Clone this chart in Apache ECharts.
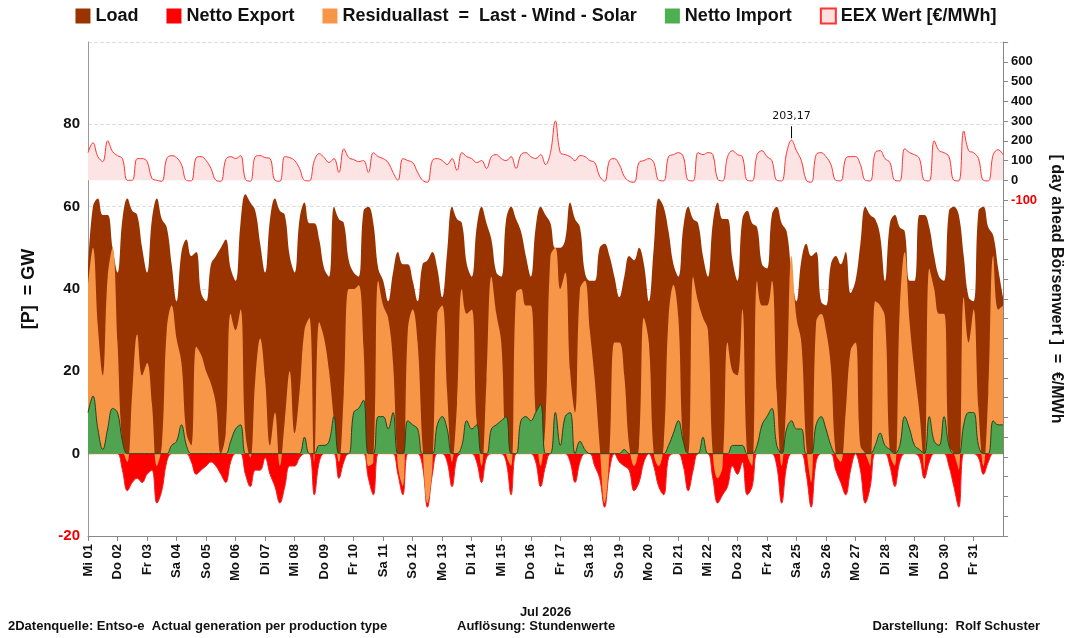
<!DOCTYPE html>
<html><head><meta charset="utf-8">
<script src="https://cdn.jsdelivr.net/npm/echarts@6/dist/echarts.min.js"></script>
<style>html,body{margin:0;padding:0;background:#fff}#c{width:1072px;height:638px}</style>
</head><body><div id="c"></div>
<script>
// 4-hourly samples (00,04,08,12,16,20 h) for each day of Jul 2026, plus final point
var dayLabels = ['Mi 01','Do 02','Fr 03','Sa 04','So 05','Mo 06','Di 07','Mi 08','Do 09','Fr 10','Sa 11','So 12','Mo 13','Di 14','Mi 15','Do 16','Fr 17','Sa 18','So 19','Mo 20','Di 21','Mi 22','Do 23','Fr 24','Sa 25','So 26','Mo 27','Di 28','Mi 29','Do 30','Fr 31'];
var load = [
45,60,62,58,58,50, 44,57,62,59,58,50, 44,57,62,57,55,46, 37,49,52,48,49,39, 37,46,48,50,52,45,
42,56,63,61,59,51, 44,57,62,59,58,48, 44,57,61,56,56,52, 45,43,60,57,56,47, 44,43,59,60,56,45,
42,37,44,49,46,46, 42,37,46,47,49,45, 38,49,60,57,56,46, 43,55,60,56,52,44, 43,57,60,57,54,48,
43,55,60,58,56,50, 50,52,61,57,55,44, 42,42,50,51,48,43, 38,43,48,47,50,46, 37,50,62,60,54,46,
43,55,60,57,56,48, 43,56,61,57,57,47, 42,57,59,56,55,46, 45,58,60,56,54,44, 37,47,51,48,49,37,
36,46,48,46,49,39, 42,51,60,58,57,53, 42,56,58,55,54,42, 42,58,58,55,48,43, 42,59,60,58,48,38,
37,59,60,55,53,45, 38];
var residual = [
41,50,31,19,43,50, 27,2,-2,15,29,19, 22,12,-3,2,30,36, 28,22,5,2,26,24, 20,17,12,0,5,34,
30,35,5,-1,18,28, 18,2,10,-3,8,20, 5,15,30,33,-2,32, 28,20,8,-2,15,40, 40,41,26,-3,-2,42,
36,33,22,-3,-8,30, 35,27,2,-12,-3,34, 36,15,-2,12,40,34, 35,8,-3,18,43,34, 27,0,-3,39,40,36,
36,10,-3,8,48,50, 40,44,20,10,40,42, 30,18,2,-12,0,27, 27,19,2,-3,2,33, 27,0,-3,2,33,41,
33,2,0,43,37,33, 30,0,-6,-3,27,20, 19,35,0,-3,42,36, 36,42,15,-3,15,48, 33,27,2,-7,32,34,
30,21,0,-2,10,25, 27,2,0,-3,37,36, 33,0,-3,35,49,32, 20,10,-4,45,40,34, 34,2,0,-4,38,27,
35,11,-3,15,48,35, 36];
var nettoExport = [
0,0,0,0,0,0, 0,-4,-9,-7,-6,-7, -5,-4,-12,-9,-2,0, 0,0,0,-2,-5,-4, -3,-2,-3,-5,-7,-2,
0,0,-5,-8,-4,-4, -1,-5,-8,-12,-8,-3, -3,-1,0,0,-10,-2, 0,0,0,-6,-2,0, 0,0,0,-6,-10,0,
0,0,0,-5,-10,0, 0,0,-3,-13,-5,0, 0,-2,-8,-1,0,0, 0,-2,-7,-1,0,0, 0,-2,-10,0,0,0,
0,-2,-8,-3,0,0, 0,0,-2,-7,-2,0, 0,-3,-6,-13,-4,0, -2,-3,-4,-9,-7,-2, 0,-3,-8,-10,-1,0,
0,-3,-9,-4,0,0, 0,-6,-12,-10,-8,-3, -5,-2,-10,-8,0,0, 0,0,-3,-12,-3,0, 0,0,-5,-13,-2,0,
0,0,-4,-7,-10,-4, 0,-4,-12,-8,0,0, 0,-3,-8,-2,0,0, 0,-1,-6,-2,0,0, 0,-3,-8,-13,0,0,
0,-1,-5,-2,0,0, 0];
var nettoImport = [
10,14,6,1,6,11, 10,3,0,0,0,0, 0,0,0,0,0,2, 3,7,2,0,0,0, 0,0,0,0,0,3,
6,7,0,0,0,0, 0,0,0,0,0,0, 0,0,4,0,0,2, 2,3,9,0,0,0, 10,11,13,0,0,9,
9,6,10,0,0,8, 7,6,0,0,0,7, 9,6,0,0,2,8, 6,7,0,0,6,7, 8,9,0,0,8,9,
8,10,12,0,0,10, 2,9,10,0,3,1, 0,0,0,0,0,0, 0,1,0,0,0,0, 0,0,0,0,2,5,
8,3,0,0,0,4, 0,0,0,0,0,2, 2,2,0,0,2,7, 9,11,2,0,6,8, 6,6,0,0,7,9,
6,2,0,0,0,0, 0,0,0,0,2,5, 2,1,0,2,9,6, 2,1,0,9,3,2, 9,2,0,0,7,10,
10,2,0,0,8,7, 7];
var eex = [
140,190,120,95,200,145, 125,110,0,0,110,110, 95,10,0,-5,110,125, 115,80,0,-3,115,120, 100,60,0,-5,105,120,
110,125,5,-5,120,125, 115,110,0,-5,120,115, 100,60,0,-3,100,135, 115,90,110,40,160,115, 105,95,100,40,140,120,
110,90,40,0,110,100, 90,40,0,-10,100,110, 100,80,110,50,140,120, 110,90,100,60,120,130, 110,100,120,60,130,140,
120,110,130,80,140,300, 140,130,120,100,125,120, 100,90,20,-5,100,110, 80,20,-5,-10,90,100, 110,90,0,-3,120,130,
140,120,0,-3,140,130, 140,130,5,-3,120,150, 130,120,0,-3,130,150, 120,100,0,-3,140,203.17, 150,100,0,-10,130,140,
120,80,0,-3,110,120, 120,80,0,-3,140,150, 110,90,0,-3,160,140, 130,110,0,-3,200,150, 140,120,0,-3,250,150,
140,110,0,-3,130,155, 130];
var leftTicks = [-20,0,20,40,60,80];
var rightTicks = [-100,0,100,200,300,400,500,600];

var cats = [];
for (var d = 0; d < dayLabels.length; d++) { for (var h = 0; h < 6; h++) cats.push(h === 0 ? dayLabels[d] : ''); }
cats.push('');
var annIdx = eex.indexOf(203.17);

var F = 'Liberation Sans';
var chart = echarts.init(document.getElementById('c'));
chart.setOption({
  animation: false,
  textStyle: {fontFamily: F},
  legend: {top: 2, left: 'center', itemWidth: 15, itemHeight: 15, itemGap: 28, icon: 'rect',
    textStyle: {fontFamily: F, fontWeight: 'bold', fontSize: 18, color: '#111'},
    data: ['Load', 'Netto Export', 'Residuallast  =  Last - Wind - Solar', 'Netto Import', 'EEX Wert [€/MWh]']},
  grid: {left: 88, right: 62, top: 42, bottom: 102},
  xAxis: {type: 'category', data: cats, boundaryGap: false,
    name: 'Jul 2026', nameLocation: 'middle', nameGap: 70,
    nameTextStyle: {fontWeight: 'bold', fontSize: 13, color: '#111'},
    axisLine: {onZero: false, lineStyle: {color: '#888'}},
    axisTick: {interval: function (i, v) { return v !== ''; }, lineStyle: {color: '#888'}},
    axisLabel: {interval: function (i, v) { return v !== ''; }, rotate: 90, fontWeight: 'bold', fontSize: 13, color: '#111'},
    splitLine: {show: false}},
  yAxis: [
    {type: 'value', min: -20, max: 100, interval: 20, position: 'left',
     name: '[P]  = GW', nameLocation: 'middle', nameGap: 50,
     nameTextStyle: {fontWeight: 'bold', fontSize: 18, color: '#111'},
     axisLine: {show: true, lineStyle: {color: '#999'}}, axisTick: {show: false},
     axisLabel: {fontWeight: 'bold', fontSize: 15, color: '#111',
       formatter: function (v) { return leftTicks.indexOf(v) >= 0 ? (v < 0 ? '{r|' + v + '}' : v) : ''; },
       rich: {r: {color: '#ee0000', fontWeight: 'bold', fontSize: 15}}},
     splitLine: {lineStyle: {color: '#ddd', type: 'dashed'}}},
    {type: 'value', min: -1800, max: 700, interval: 100, position: 'right',
     name: '[ day ahead Börsenwert ]  =  €/MWh', nameLocation: 'middle', nameGap: 38, nameRotate: -90,
     nameTextStyle: {fontWeight: 'bold', fontSize: 16, color: '#111'},
     axisLine: {show: true, lineStyle: {color: '#888'}}, axisTick: {show: true, length: 5, lineStyle: {color: '#888'}},
     axisLabel: {fontSize: 13, fontWeight: 'bold', color: '#111', margin: 8,
       formatter: function (v) { return rightTicks.indexOf(v) >= 0 ? (v < 0 ? '{r|' + v + '}' : v) : ''; },
       rich: {r: {color: '#ee0000', fontWeight: 'bold', fontSize: 13}}},
     splitLine: {show: false}}
  ],
  series: [
    {name: 'Load', type: 'line', data: load, smooth: 0.4, symbol: 'none', lineStyle: {width: 0},
     itemStyle: {color: '#993300'}, areaStyle: {color: '#993300', opacity: 1}, z: 1},
    {name: 'Netto Export', type: 'line', data: nettoExport, smooth: 0.4, symbol: 'none', lineStyle: {width: 1, color: '#ee2222'},
     itemStyle: {color: '#ff0000'}, areaStyle: {color: '#ff0000', opacity: 1}, z: 2},
    {name: 'Residuallast  =  Last - Wind - Solar', type: 'line', data: residual, smooth: 0.4, symbol: 'none', lineStyle: {width: 0},
     itemStyle: {color: '#f79646'}, areaStyle: {color: '#f79646', opacity: 1}, z: 3},
    {name: 'Netto Import', type: 'line', data: nettoImport, smooth: 0.4, symbol: 'none', lineStyle: {width: 1, color: '#224422'},
     itemStyle: {color: '#4caf50'}, areaStyle: {color: '#50a34f', opacity: 1}, z: 4},
    {name: 'EEX Wert [€/MWh]', type: 'line', yAxisIndex: 1, data: eex, smooth: 0.4, symbol: 'none',
     lineStyle: {width: 1, color: '#ff3333'}, itemStyle: {color: '#fde0e0', borderColor: '#ff3333', borderWidth: 1},
     areaStyle: {color: '#fde4e4', opacity: 1}, z: 5,
     markPoint: {symbol: 'rect', symbolSize: [1, 12], symbolOffset: [0, -8], itemStyle: {color: '#000'},
       label: {show: true, position: 'top', formatter: '203,17', fontSize: 11, color: '#111', fontFamily: 'DejaVu Sans'},
       data: [{coord: [annIdx, eex[annIdx]]}]}}
  ],
  graphic: [
    {type: 'text', left: 8, top: 620, style: {text: '2Datenquelle: Entso-e  Actual generation per production type', font: 'bold 13px Liberation Sans', fill: '#111'}},
    {type: 'text', left: 457, top: 620, style: {text: 'Auflösung: Stundenwerte', font: 'bold 13px Liberation Sans', fill: '#111'}},
    {type: 'text', right: 32, top: 620, style: {text: 'Darstellung:  Rolf Schuster', font: 'bold 13px Liberation Sans', fill: '#111'}}
  ]
});
</script></body></html>
